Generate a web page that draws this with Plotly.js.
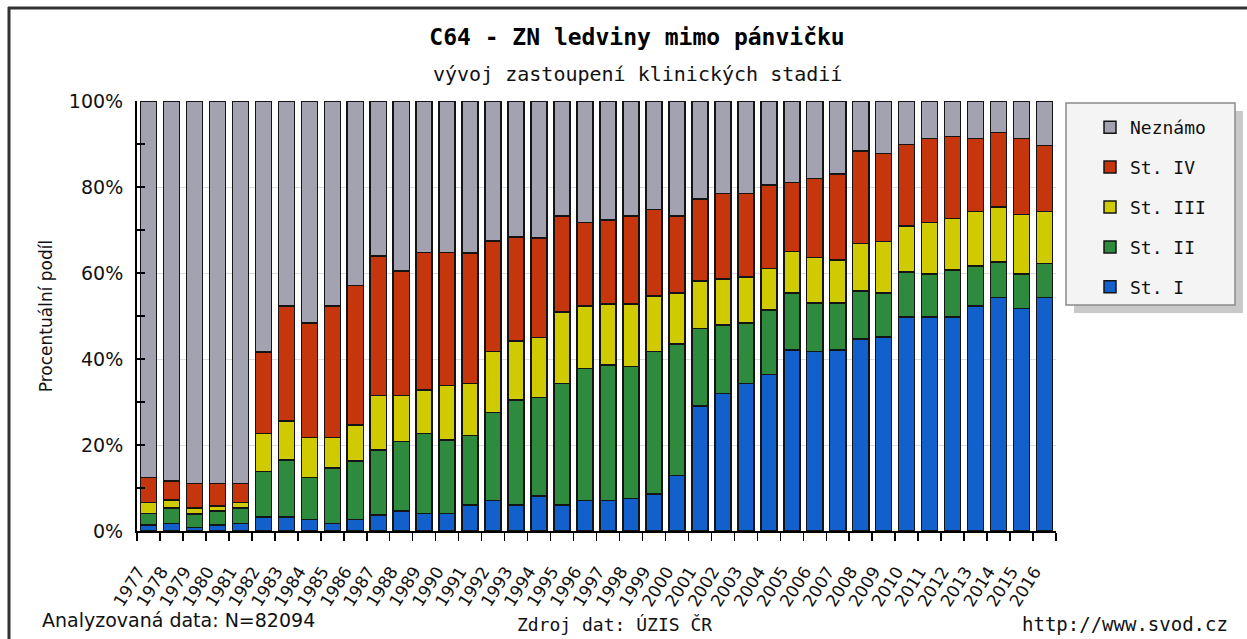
<!DOCTYPE html>
<html><head><meta charset="utf-8">
<script src="https://cdn.plot.ly/plotly-3.0.1.min.js"></script>
<style>html,body{margin:0;padding:0;background:#fff;} #chart{width:1247px;height:639px;}</style>
</head><body><div id="chart"></div>
<script>
const years = ['1977','1978','1979','1980','1981','1982','1983','1984','1985','1986',
  '1987','1988','1989','1990','1991','1992','1993','1994','1995','1996',
  '1997','1998','1999','2000','2001','2002','2003','2004','2005','2006',
  '2007','2008','2009','2010','2011','2012','2013','2014','2015','2016'];
const stI = [1.4,1.8,0.8,1.4,1.8,3.3,3.3,2.7,1.8,2.7,
  3.7,4.7,4.1,4.1,6.0,7.1,6.0,8.1,6.0,7.1,
  7.1,7.6,8.6,12.9,29.1,32.0,34.3,36.4,42.1,41.7,
  42.1,44.7,45.1,49.8,49.8,49.8,52.3,54.3,51.8,54.3];
const stII = [2.7,3.5,3.1,3.3,3.5,10.5,13.2,9.8,12.8,13.6,
  15.1,16.1,18.6,17.1,16.2,20.5,24.5,23.0,28.3,30.7,
  31.5,30.6,33.1,30.6,18.0,15.9,14.1,15.0,13.2,11.3,
  10.9,11.1,10.2,10.4,10.0,10.9,9.3,8.3,8.0,7.9];
const stIII = [2.5,1.9,1.4,1.1,1.3,8.9,9.1,9.2,7.1,8.4,
  12.7,10.7,10.1,12.6,12.1,14.1,13.7,13.9,16.6,14.5,
  14.2,14.6,13.0,11.8,11.0,10.7,10.7,9.7,9.7,10.6,
  10.0,11.1,12.0,10.7,12.0,12.0,12.7,12.7,13.8,12.1];
const stIV = [5.9,4.4,5.8,5.3,4.5,18.9,26.7,26.7,30.6,32.4,
  32.5,29.0,32.0,31.0,30.3,25.7,24.2,23.1,22.4,19.5,
  19.5,20.5,20.1,18.0,19.1,19.9,19.4,19.4,16.1,18.4,
  20.0,21.5,20.5,19.0,19.5,19.0,17.0,17.4,17.7,15.4];
const neznamo = [87.5,88.4,88.9,88.9,88.9,58.4,47.7,51.6,47.7,42.9,
  36.0,39.5,35.2,35.2,35.4,32.6,31.6,31.9,26.7,28.2,
  27.7,26.7,25.2,26.7,22.8,21.5,21.5,19.5,18.9,18.0,
  17.0,11.6,12.2,10.1,8.7,8.3,8.7,7.3,8.7,10.3];
const seriesNames = ['St. I','St. II','St. III','St. IV','Neznámo'];
const seriesValues = [stI, stII, stIII, stIV, neznamo];
const seriesColors = ['#1260cc','#2e8a3c','#d0ca00','#c6360c','#a2a2b0'];
const yTickVals = [0,20,40,60,80,100];
const yTickText = ['0%','20%','40%','60%','80%','100%'];

const W=1247,H=639,ml=80,mr=191,mt=101,mb=108;
const pw=W-ml-mr, ph=H-mt-mb;
const px=x=>(x-ml)/pw, py=y=>1-(y-mt)/ph;
const mono='"DejaVu Sans Mono","Liberation Mono",monospace';
const sans='"DejaVu Sans",Verdana,sans-serif';

const traces = seriesNames.map((n,i)=>({
  type:'bar', name:n, x:years, y:seriesValues[i], legendgroup:n, legendrank:seriesNames.length-i,
  marker:{color:seriesColors[i], line:{color:'#141414', width:1.5}},
  hovertemplate:'%{x}: %{y:.1f}%<extra>'+n+'</extra>'
}));

const layout = {
  width:W, height:H, margin:{l:ml,r:mr,t:mt,b:mb},
  paper_bgcolor:'#ffffff', plot_bgcolor:'#ffffff',
  barmode:'stack', bargap:0.3,
  showlegend:true,
  title:{text:'C64 - ZN ledviny mimo pánvičku', font:{family:mono, size:23, color:'#000', weight:'bold'},
    xref:'container', yref:'container', x:637/W, xanchor:'center', y:1-37/H, yanchor:'middle'},
  xaxis:{type:'category', domain:[px(137),1], ticks:'outside', tickson:'boundaries',
    ticklen:8, tickwidth:1.5, tickcolor:'#000', showline:true, linecolor:'#000', linewidth:2,
    showgrid:false, zeroline:false, fixedrange:true,
    tickangle:-58, tickfont:{family:sans, size:17, color:'#111'}, ticklabelstandoff:22, ticklabelshift:-10},
  yaxis:{range:[0,100], tickvals:yTickVals, ticktext:yTickText, ticks:'inside', ticklen:8, tickwidth:1.5,
    tickcolor:'#000', minor:{dtick:10, ticks:'inside', ticklen:8, tickwidth:1.5, tickcolor:'#000', showgrid:false},
    showline:true, linecolor:'#000', linewidth:2, showgrid:true, gridcolor:'#dadde8', gridwidth:1,
    zeroline:false, tickfont:{family:sans, size:19, color:'#111'}, ticklabelstandoff:8,
    title:{text:'Procentuální podíl', font:{family:sans, size:17, color:'#111'}, standoff:12}, fixedrange:true},
  legend:{x:px(1090), xanchor:'left', y:py(109), yanchor:'top', bgcolor:'rgba(0,0,0,0)', borderwidth:0,
    traceorder:'grouped', tracegroupgap:13.5, font:{family:mono, size:18, color:'#111'}},
  shapes:[
    {type:'rect', xref:'paper', yref:'paper', x0:px(1074), x1:px(1243), y0:py(313), y1:py(111),
      fillcolor:'#c9c9c9', line:{width:0}, layer:'above'},
    {type:'rect', xref:'paper', yref:'paper', x0:px(1066), x1:px(1235), y0:py(305), y1:py(103),
      fillcolor:'#f4f4f4', line:{color:'#8a8a8a', width:1.5}, layer:'above'},
    {type:'line', xref:'paper', yref:'paper', x0:px(8), x1:px(1250), y0:py(8), y1:py(8),
      line:{color:'#333', width:3}},
    {type:'line', xref:'paper', yref:'paper', x0:px(9), x1:px(9), y0:py(7), y1:py(645),
      line:{color:'#333', width:3}}
  ],
  annotations:[
    {text:'vývoj zastoupení klinických stadií', xref:'paper', yref:'paper', x:px(637), y:py(74),
      xanchor:'center', yanchor:'middle', showarrow:false, font:{family:mono, size:20, color:'#111'}},
    {text:'Analyzovaná data: N=82094', xref:'paper', yref:'paper', x:px(40), y:py(620),
      xanchor:'left', yanchor:'middle', showarrow:false, font:{family:sans, size:19, color:'#111'}},
    {text:'Zdroj dat: ÚZIS ČR', xref:'paper', yref:'paper', x:px(614), y:py(624),
      xanchor:'center', yanchor:'middle', showarrow:false, font:{family:mono, size:18, color:'#111'}},
    {text:'http://www.svod.cz', xref:'paper', yref:'paper', x:px(1230), y:py(624),
      xanchor:'right', yanchor:'middle', showarrow:false, font:{family:mono, size:19, color:'#111'}}
  ]
};
Plotly.newPlot('chart', traces, layout, {displayModeBar:false, staticPlot:true});
</script>
</body></html>
